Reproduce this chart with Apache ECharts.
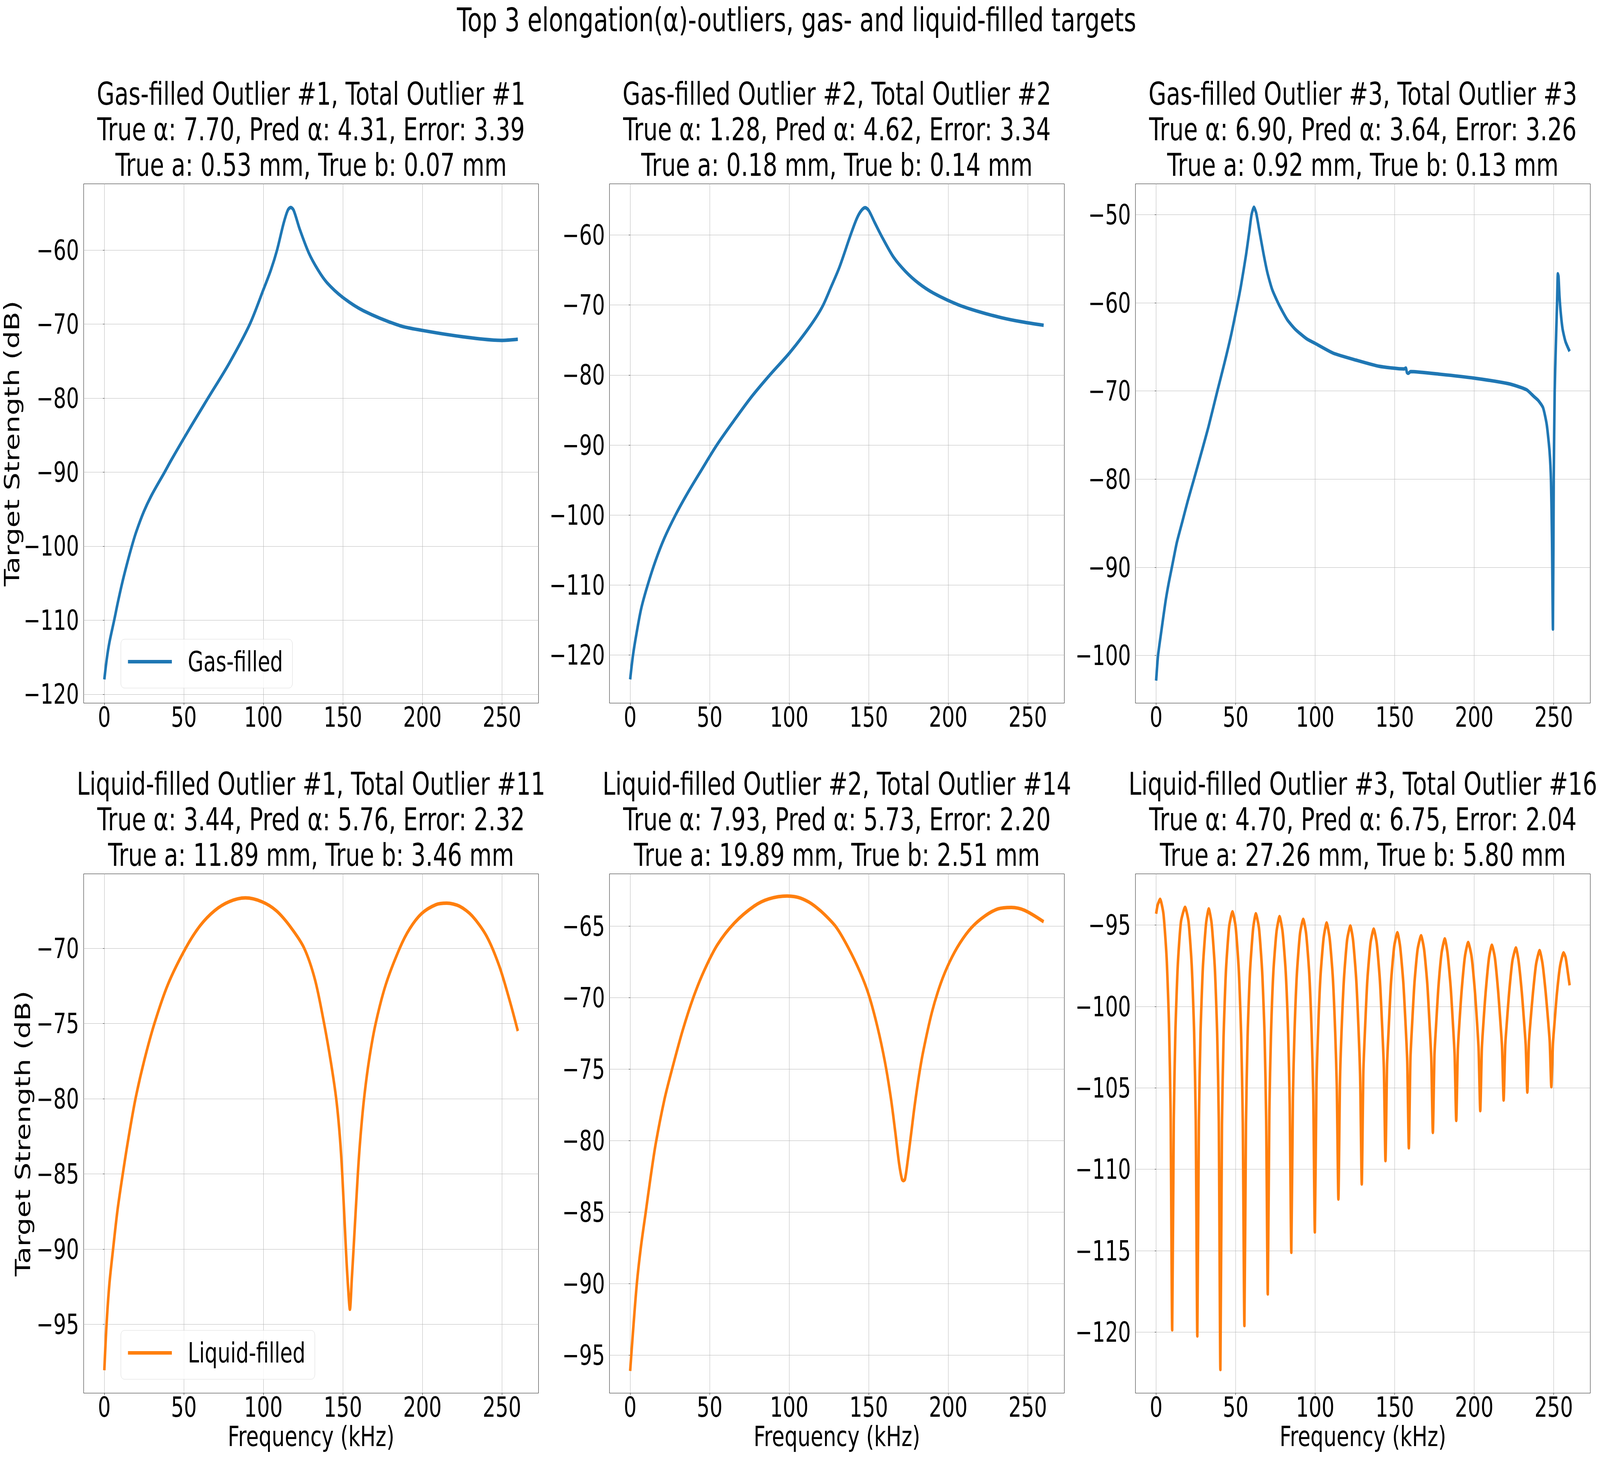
<!DOCTYPE html>
<html>
<head>
<meta charset="utf-8">
<style>html,body{margin:0;padding:0;background:#fff;overflow:hidden;width:100%;height:100%}#c{width:5614px;height:3729px;transform-origin:0 0}</style>
<script src="https://cdn.jsdelivr.net/npm/echarts@6/dist/echarts.min.js"></script>
</head>
<body>
<div id="c"></div>
<script>
const suptitle = 'Top 3 elongation(\u03b1)-outliers, gas- and liquid-filled targets';
const titles = [
 'Gas-filled Outlier #1, Total Outlier #1\nTrue \u03b1: 7.70, Pred \u03b1: 4.31, Error: 3.39\nTrue a: 0.53 mm, True b: 0.07 mm',
 'Gas-filled Outlier #2, Total Outlier #2\nTrue \u03b1: 1.28, Pred \u03b1: 4.62, Error: 3.34\nTrue a: 0.18 mm, True b: 0.14 mm',
 'Gas-filled Outlier #3, Total Outlier #3\nTrue \u03b1: 6.90, Pred \u03b1: 3.64, Error: 3.26\nTrue a: 0.92 mm, True b: 0.13 mm',
 'Liquid-filled Outlier #1, Total Outlier #11\nTrue \u03b1: 3.44, Pred \u03b1: 5.76, Error: 2.32\nTrue a: 11.89 mm, True b: 3.46 mm',
 'Liquid-filled Outlier #2, Total Outlier #14\nTrue \u03b1: 7.93, Pred \u03b1: 5.73, Error: 2.20\nTrue a: 19.89 mm, True b: 2.51 mm',
 'Liquid-filled Outlier #3, Total Outlier #16\nTrue \u03b1: 4.70, Pred \u03b1: 6.75, Error: 2.04\nTrue a: 27.26 mm, True b: 5.80 mm'
];
const xTicks = [0,50,100,150,200,250];
const yTicks1 = [-60,-70,-80,-90,-100,-110,-120];
const yTicks2 = [-60,-70,-80,-90,-100,-110,-120];
const yTicks3 = [-50,-60,-70,-80,-90,-100];
const yTicks4 = [-70,-75,-80,-85,-90,-95];
const yTicks5 = [-65,-70,-75,-80,-85,-90,-95];
const yTicks6 = [-95,-100,-105,-110,-115,-120];
const xRange = [-13,273];
const yRange1 = [-121.2,-51.05];
const yRange2 = [-126.85,-52.7];
const yRange3 = [-105.4,-46.5];
const yRange4 = [-99.57,-65.05];
const yRange5 = [-97.65,-61.35];
const yRange6 = [-123.75,-91.85];

const gas1 = [[0,-118],[1.5,-115.3],[3.2,-113],[6.2,-110],[8.5,-107.6],[11.2,-105],[14,-102.6],[17.3,-100],[20,-98.1],[24.9,-95.3],[30,-93],[37.9,-90],[42,-88.4],[53.4,-84.2],[65.2,-80],[78.5,-75.3],[91.5,-70],[100.1,-65.3],[104.7,-62.7],[108.6,-60],[112.7,-56.4],[115.4,-54.6],[117.2,-54.25],[119,-54.6],[122.9,-57.2],[128.6,-60.4],[134.4,-62.7],[140,-64.4],[150,-66.4],[163,-68.2],[185.7,-70.2],[200,-70.85],[225,-71.7],[250,-72.2],[260,-72.05]];
const gas2 = [[0,-123.46],[1.8,-120],[4,-116.9],[7,-113.3],[11,-110],[16,-106.5],[21.5,-103.3],[28.5,-100],[36,-96.9],[45,-93.5],[54.5,-90],[65,-86.6],[76,-83.2],[87.8,-80],[100,-76.9],[110,-74],[116.8,-71.8],[121.4,-70],[126,-67.6],[131.6,-64.6],[138.6,-60],[142.6,-57.6],[145.4,-56.5],[147.8,-56.1],[150,-56.5],[153.7,-58.2],[158.4,-60.3],[165.7,-63.2],[173.1,-65.2],[181.4,-66.9],[190.7,-68.3],[205.5,-69.9],[218.4,-70.9],[233.2,-71.8],[246.1,-72.4],[260,-72.9]];
const gas3 = [[0,-102.85],[1.2,-100],[3,-97.6],[5.8,-94],[7.8,-91.9],[9.9,-90],[13,-87.2],[16.5,-84.8],[20,-82.4],[23.8,-80],[28.6,-76.9],[33,-74],[38.5,-70],[43,-66.8],[47.2,-63.6],[51.3,-60],[53.4,-58],[56.5,-54.6],[58.6,-51.9],[60,-50],[61.5,-49.15],[62.9,-49.8],[64.8,-51.7],[67.5,-54.4],[70,-56.6],[73,-58.5],[77.2,-60.2],[82.4,-61.9],[87.5,-63],[94.8,-64.1],[100,-64.6],[111.3,-65.7],[125.8,-66.5],[140.3,-67.2],[155.8,-67.5],[157,-67.4],[157.7,-67.9],[158.5,-68],[160,-67.8],[178.6,-68.1],[200.3,-68.55],[221,-69.15],[228.6,-69.55],[233.3,-69.9],[237.4,-70.6],[240.4,-71.1],[243.3,-71.9],[245.6,-73.8],[247.4,-76.9],[248.3,-80.3],[248.9,-86.6],[249.5,-97],[250,-80],[250.6,-70],[251.3,-65],[252.1,-60],[252.6,-56.7],[253,-57],[253.6,-59.2],[254.5,-61.3],[255.6,-63],[257.4,-64.4],[260,-65.5]];
const liq1 = [[0,-98.05],[1.4,-95],[3.2,-92.3],[5.5,-90],[8.3,-87.4],[11.6,-85],[15.2,-82.6],[19.6,-80],[25,-77.5],[31.5,-75],[40,-72.4],[51.1,-70],[60.2,-68.5],[69.3,-67.5],[78.5,-66.9],[88.7,-66.65],[99,-66.9],[108.1,-67.5],[117.2,-68.6],[125.7,-70],[132.5,-72.1],[138.2,-75],[142.5,-77.6],[145.8,-80],[148,-82.4],[149.6,-85],[151.9,-90],[153.3,-92.6],[154.4,-94],[155.6,-92],[156.7,-90],[159.4,-85],[161,-82.6],[163.3,-80],[166.5,-77.4],[170.6,-75],[177,-72.4],[185.7,-70],[192,-68.7],[199.4,-67.7],[208.5,-67.1],[215.3,-67],[223.3,-67.2],[231.3,-67.85],[240.4,-69.2],[248.4,-71.2],[255.2,-73.6],[260,-75.5]];
const liq2 = [[0,-96.1],[1.7,-93.5],[4.2,-90],[6.8,-87.4],[9.8,-85],[12.8,-82.6],[16.1,-80.2],[21.6,-77.1],[26.6,-74.9],[33,-72.3],[39.7,-70],[46.6,-68.1],[54.9,-66.3],[65.4,-64.8],[78,-63.6],[87.2,-63.1],[98.7,-62.9],[105.7,-63],[112,-63.3],[117.2,-63.7],[122.3,-64.2],[129.7,-65.1],[137.1,-66.5],[144.5,-68.2],[150,-69.8],[155.6,-72.1],[160.2,-74.5],[163.9,-77],[166.7,-79.4],[169.1,-81.6],[170.9,-82.7],[171.8,-82.8],[172.8,-82.7],[174.4,-81.5],[176.8,-79.4],[178.7,-77.7],[181.4,-75.6],[184.2,-73.8],[189.8,-71],[195.3,-69],[200.9,-67.5],[207.3,-66.2],[214.7,-65.1],[223,-64.3],[231.3,-63.8],[239.7,-63.7],[248,-63.9],[260,-64.7]];
const liq3 = [[0,-94.3],[1,-93.75],[2.5,-93.41],[4.6,-94.3],[6.6,-97],[8.1,-101.1],[9.1,-106.4],[10.1,-119.86],
[11.1,-106.9],[12.1,-101.6],[13.6,-97.5],[15.6,-94.8],[18.2,-93.9],[20.4,-94.8],[22.4,-97.5],[23.9,-101.6],[24.9,-106.9],[25.9,-120.24],
[26.9,-107],[27.9,-101.7],[29.4,-97.6],[31.4,-94.9],[33.1,-94],[34.9,-94.9],[36.9,-97.6],[38.4,-101.7],[39.4,-107],[40.4,-122.3],
[41.4,-107.2],[42.4,-101.9],[43.9,-97.8],[45.9,-95.1],[48,-94.18],[50,-95.1],[52,-97.8],[53.5,-101.9],[54.5,-107.2],[55.5,-119.6],
[56.5,-107.2],[57.5,-101.9],[59,-97.9],[61,-95.2],[62.7,-94.3],[64.7,-95.2],[66.7,-97.9],[68.2,-101.8],[69.2,-107],[70.2,-117.66],
[71.2,-106.4],[72.2,-101.8],[73.7,-97.9],[75.7,-95.4],[77.6,-94.47],[79.5,-95.4],[81.5,-97.9],[83,-101.6],[84,-106],[85,-115.1],
[86,-105.6],[87,-101.6],[88.5,-98],[90.5,-95.5],[92.5,-94.64],[94.3,-95.5],[96.3,-98],[97.8,-101.6],[98.8,-105.4],[99.8,-113.85],
[100.8,-105],[101.8,-101.6],[103.3,-98.2],[105.3,-95.8],[107.2,-94.86],[109.1,-95.8],[111.1,-98.2],[112.6,-101.6],[113.6,-104.9],[114.6,-111.83],
[115.6,-104.6],[116.6,-101.5],[118.1,-98.3],[120.1,-95.9],[122.1,-95.05],[123.8,-95.9],[125.8,-98.3],[127.3,-101.5],[128.3,-104.4],[129.3,-110.9],
[130.3,-104],[131.3,-101.5],[132.8,-98.4],[134.8,-96.1],[136.8,-95.24],[138.7,-96.1],[140.7,-98.4],[142.2,-101.4],[143.2,-103.8],[144.2,-109.47],
[145.2,-103.6],[146.2,-101.4],[147.7,-98.5],[149.7,-96.3],[151.7,-95.46],[153.4,-96.3],[155.4,-98.5],[156.9,-101.2],[157.9,-103.4],[158.9,-108.68],
[159.9,-103.2],[160.9,-101.2],[162.4,-98.6],[164.4,-96.5],[166.6,-95.65],[168.5,-96.5],[170.5,-98.6],[172,-101.2],[173,-103.2],[174,-107.74],
[175,-103],[176,-101.2],[177.5,-98.8],[179.5,-96.7],[181.5,-95.84],[183.2,-96.7],[185.2,-98.8],[186.7,-101.2],[187.7,-103],[188.7,-107],
[189.7,-102.7],[190.7,-101],[192.2,-98.9],[194.2,-96.9],[196.2,-96.06],[198.3,-96.9],[200.3,-98.9],[201.8,-101],[202.8,-102.7],[203.8,-106.4],
[204.8,-102.6],[205.8,-101],[207.3,-99],[209.3,-97],[211.1,-96.23],[213,-97],[215,-99],[216.5,-101],[217.5,-102.5],[218.5,-105.75],
[219.5,-102.4],[220.5,-101],[222,-99.1],[224,-97.2],[226.2,-96.4],[227.9,-97.2],[229.9,-99.1],[231.4,-101],[232.4,-102.4],[233.4,-105.26],
[234.4,-102.2],[235.4,-100.9],[236.9,-99.2],[238.9,-97.4],[241.1,-96.56],[243,-97.4],[245,-99.2],[246.5,-100.9],[247.5,-102.2],[248.5,-104.93],
[249.5,-102.3],[250.5,-101],[252,-99.2],[254,-97.5],[256.2,-96.7],[257.5,-97],[259,-98],[260,-98.7]];

const FONT = '"DejaVu Sans"';
const LEFTS = [293.5, 2138.5, 3984];
const TOPS = [470.5, 2236.5];
const W = 1596, H = 1329;
const panels = [
 {d:gas1,c:'#1f77b4',n:'Gas-filled',yt:yTicks1,yr:yRange1,col:0,row:0,s:0.3},
 {d:gas2,c:'#1f77b4',n:'Gas-filled',yt:yTicks2,yr:yRange2,col:1,row:0,s:0.3},
 {d:gas3,c:'#1f77b4',n:'Gas-filled',yt:yTicks3,yr:yRange3,col:2,row:0,s:0.2},
 {d:liq1,c:'#ff7f0e',n:'Liquid-filled',yt:yTicks4,yr:yRange4,col:0,row:1,s:0.3},
 {d:liq2,c:'#ff7f0e',n:'Liquid-filled',yt:yTicks5,yr:yRange5,col:1,row:1,s:0.3},
 {d:liq3,c:'#ff7f0e',n:'Liquid-filled',yt:yTicks6,yr:yRange6,col:2,row:1,s:0.2}
];
const fmt = v => String(v).replace('-', '\u2212');
const grid = [], xAxis = [], yAxis = [], series = [];
const title = [{text:suptitle,left:2795,top:7,padding:0,textAlign:'center',
  textStyle:{fontFamily:FONT,fontWeight:'normal',fontSize:83.6,color:'#000',lineHeight:88}}];
panels.forEach((p,i)=>{
  const l = LEFTS[p.col], t = TOPS[p.row];
  grid.push({left:l,top:t,width:W,height:H,show:true,borderColor:'#000',borderWidth:1,backgroundColor:'transparent',containLabel:false,outerBoundsMode:'none'});
  const axisCommon = {type:'value',axisLine:{show:false},
    axisTick:{show:true,length:5,lineStyle:{color:'#000',width:1}},
    splitLine:{show:true,lineStyle:{color:'#b0b0b0',width:1}},
    minorTick:{show:false}};
  xAxis.push(Object.assign({},axisCommon,{gridIndex:i,min:xRange[0],max:xRange[1],
    axisTick:Object.assign({},axisCommon.axisTick,{customValues:xTicks}),
    axisLabel:{customValues:xTicks,formatter:fmt,fontFamily:FONT,fontSize:71,color:'#000',margin:0},
    name:p.row===1?'Frequency (kHz)':'',nameLocation:'middle',nameGap:75,
    nameTextStyle:{fontFamily:FONT,fontSize:72,color:'#000'}}));
  yAxis.push(Object.assign({},axisCommon,{gridIndex:i,min:p.yr[0],max:p.yr[1],
    axisTick:Object.assign({},axisCommon.axisTick,{customValues:p.yt}),
    axisLabel:{customValues:p.yt,formatter:fmt,fontFamily:FONT,fontSize:71,color:'#000',margin:16},
    name:p.col===0?'Target Strength (dB)':'',nameLocation:'middle',nameRotate:90,nameGap:p.row===0?212:177,
    nameTextStyle:{fontFamily:FONT,fontSize:72,color:'#000'}}));
  series.push({type:'line',name:p.n,xAxisIndex:i,yAxisIndex:i,data:p.d,showSymbol:false,symbol:'none',
    smooth:p.s,silent:true,animation:false,
    lineStyle:{color:p.c,width:9,cap:'butt',join:'round'},itemStyle:{color:p.c}});
  title.push({text:titles[i],left:l+W/2,top:t-275,padding:0,textAlign:'center',
    textStyle:{fontFamily:FONT,fontWeight:'normal',fontSize:80.5,color:'#000',lineHeight:91}});
});
const legendOf = (name,top)=>({data:[{name,icon:'rect'}],left:424,top,orient:'horizontal',
  itemWidth:154,itemHeight:9,selectedMode:false,
  padding:[18,33,28,25],
  backgroundColor:'rgba(255,255,255,0.8)',borderColor:'#d5d5d5',borderWidth:1,borderRadius:12,
  textStyle:{fontFamily:FONT,fontSize:71,color:'#000',lineHeight:79,padding:[0,0,0,51]}});
const legend = [legendOf('Gas-filled',1636),legendOf('Liquid-filled',3405)];
const box = document.getElementById('c');
box.style.transform = 'scale(' + (window.innerWidth/5614) + ',' + (window.innerHeight/3729) + ')';
const chart = echarts.init(box,null,{renderer:'svg',width:5614,height:3729});
chart.setOption({animation:false,backgroundColor:'#fff',title,grid,xAxis,yAxis,legend,series});
</script>
</body>
</html>
